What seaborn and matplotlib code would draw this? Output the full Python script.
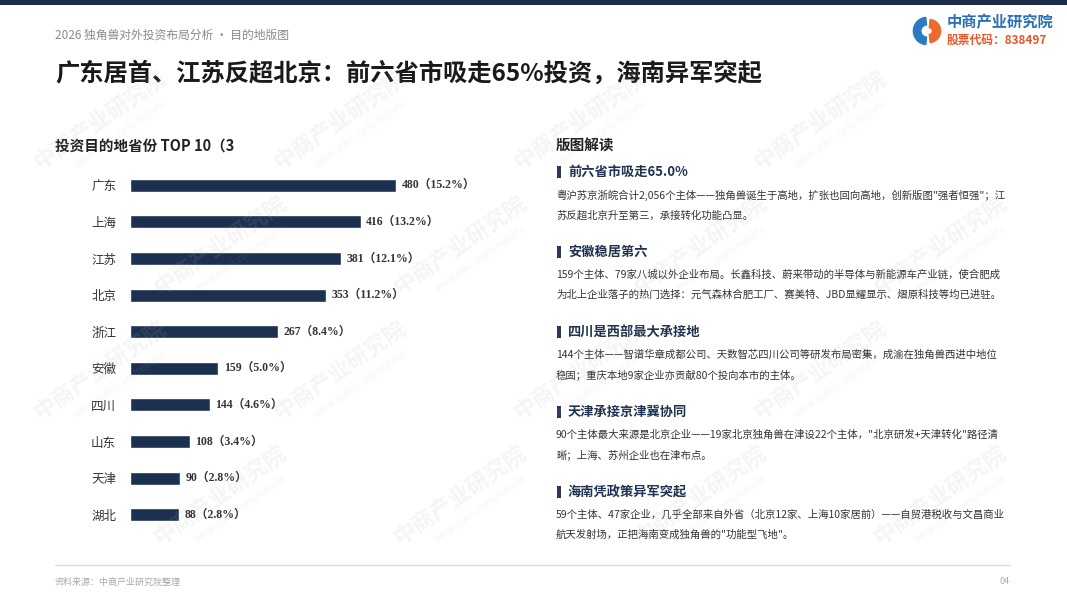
import matplotlib
matplotlib.use("Agg")
import matplotlib.pyplot as plt
from matplotlib.patches import Rectangle, Wedge
from matplotlib.lines import Line2D
import pandas as pd
import seaborn as sns

# data
provinces = ['广东', '上海', '江苏', '北京', '浙江', '安徽', '四川', '山东', '天津', '湖北']
counts = [480, 416, 381, 353, 267, 159, 144, 108, 90, 88]
shares = [15.2, 13.2, 12.1, 11.2, 8.4, 5.0, 4.6, 3.4, 2.8, 2.8]

headings = ['前六省市吸走65.0%', '安徽稳居第六', '四川是西部最大承接地', '天津承接京津冀协同', '海南凭政策异军突起']
bodies = [
    ['粤沪苏京浙皖合计2,056个主体——独角兽诞生于高地，扩张也回向高地，创新版图"强者恒强"；江',
     '苏反超北京升至第三，承接转化功能凸显。'],
    ['159个主体、79家八城以外企业布局。长鑫科技、蔚来带动的半导体与新能源车产业链，使合肥成',
     '为北上企业落子的热门选择：元气森林合肥工厂、赛美特、JBD显耀显示、熠原科技等均已进驻。'],
    ['144个主体——智谱华章成都公司、天数智芯四川公司等研发布局密集，成渝在独角兽西进中地位',
     '稳固；重庆本地9家企业亦贡献80个投向本市的主体。'],
    ['90个主体最大来源是北京企业——19家北京独角兽在津设22个主体，"北京研发+天津转化"路径清',
     '晰；上海、苏州企业也在津布点。'],
    ['59个主体、47家企业，几乎全部来自外省（北京12家、上海10家居前）——自贸港税收与文昌商业',
     '航天发射场，正把海南变成独角兽的"功能型飞地"。'],
]

sns.set_theme(style='white')
plt.rcParams['font.family'] = ['Noto Sans CJK SC', 'DejaVu Sans']
SERIF = ['Liberation Serif', 'Noto Sans CJK SC']

W, H = 1067, 600
navy = '#1c3050'
fig = plt.figure(figsize=(W / 100, H / 100), dpi=100)
fig.patch.set_facecolor('white')


def px(x, y):
    return x / W, 1 - y / H


# top band
fig.add_artist(Rectangle((0, 1 - 5 / H), 1, 5 / H, transform=fig.transFigure, color='#1b2d48', lw=0))

# header
fig.text(*px(55, 35), '2026 独角兽对外投资布局分析 · 目的地版图', fontsize=8.5, color='#8a8a8a', va='center')
fig.text(*px(55, 73), '广东居首、江苏反超北京：前六省市吸走65%投资，海南异军突起',
         fontsize=17.5, fontweight='bold', color='#1a1a1a', va='center')

# logo
lax = fig.add_axes([912 / W, 1 - 47 / H, 30 / W, 32 / H])
lax.set_xlim(-1.1, 1.1)
lax.set_ylim(-1.1, 1.1)
lax.set_aspect('equal')
lax.axis('off')
lax.add_patch(Wedge((0, 0), 1.0, 95, 265, width=0.55, color='#2b7bc4'))
lax.add_patch(Wedge((0.15, 0), 0.85, -85, 85, width=0.6, color='#ee6a2c'))
fig.text(*px(947, 22), '中商产业研究院', fontsize=11, fontweight='bold', color='#2b6fb8', va='center')
fig.text(*px(947, 40), '股票代码：838497', fontsize=8.5, fontweight='bold', color='#e8572a', va='center')

# left: bar chart
fig.text(*px(55, 146), '投资目的地省份 TOP 10（3', fontsize=10.5, fontweight='bold', color='#222222', va='center')

ax = fig.add_axes([130 / W, 1 - 533 / H, 400 / W, 366 / H])
df = pd.DataFrame({'province': provinces, 'count': counts})
sns.barplot(data=df, y='province', x='count', color=navy, saturation=1, width=0.36, ax=ax)
ax.set_xlim(0, 480 * 400 / 266)
ax.set_xticks([])
ax.set_xlabel('')
ax.set_ylabel('')
sns.despine(ax=ax, left=True, bottom=True)
ax.patch.set_visible(False)
ax.tick_params(axis='y', length=0, pad=10, labelsize=9, labelcolor='#333333')
labels = [f'{c}（{s:.1f}%）' for c, s in zip(counts, shares)]
ax.bar_label(ax.containers[0], labels=labels, padding=4, fontsize=8.5, fontweight='bold',
             color='#333333', family=SERIF)

# right: interpretation
fig.text(*px(556, 146), '版图解读', fontsize=10.5, fontweight='bold', color='#222222', va='center')
head_y = [172, 252, 332, 412, 492]
for hy, head, lines in zip(head_y, headings, bodies):
    fig.add_artist(Rectangle(px(557, hy + 6), 4 / W, 12 / H, transform=fig.transFigure,
                             color='#2a3a55', lw=0))
    fig.text(*px(568, hy), head, fontsize=9.5, fontweight='bold', color='#1f3350', va='center')
    for i, line in enumerate(lines):
        fig.text(*px(556, hy + 23 + i * 20), line, fontsize=7.5, color='#333333', va='center')

# footer
fig.add_artist(Line2D([55 / W, 1010 / W], [1 - 565 / H] * 2, color='#dddddd', lw=1))
fig.text(*px(55, 582), '资料来源：中商产业研究院整理', fontsize=6.5, color='#aaaaaa', va='center')
fig.text(*px(1010, 582), '04', fontsize=6.5, color='#aaaaaa', va='center', ha='right')

# watermarks (kept inside the page)
for row, wy in enumerate([120, 245, 370, 495]):
    start = 100 if row % 2 == 0 else 220
    for wx in range(start, 1000, 240):
        fig.text(*px(wx, wy), '中商产业研究院', fontsize=16, fontweight='bold', color='#b0b0b0',
                 alpha=0.13, rotation=35, ha='center', va='center', zorder=10)
        fig.text(*px(wx + 20, wy + 14), 'www.askci.com/reports', fontsize=7, color='#b0b0b0',
                 alpha=0.13, rotation=35, ha='center', va='center', zorder=10)

fig.savefig('out.png', dpi=100)
